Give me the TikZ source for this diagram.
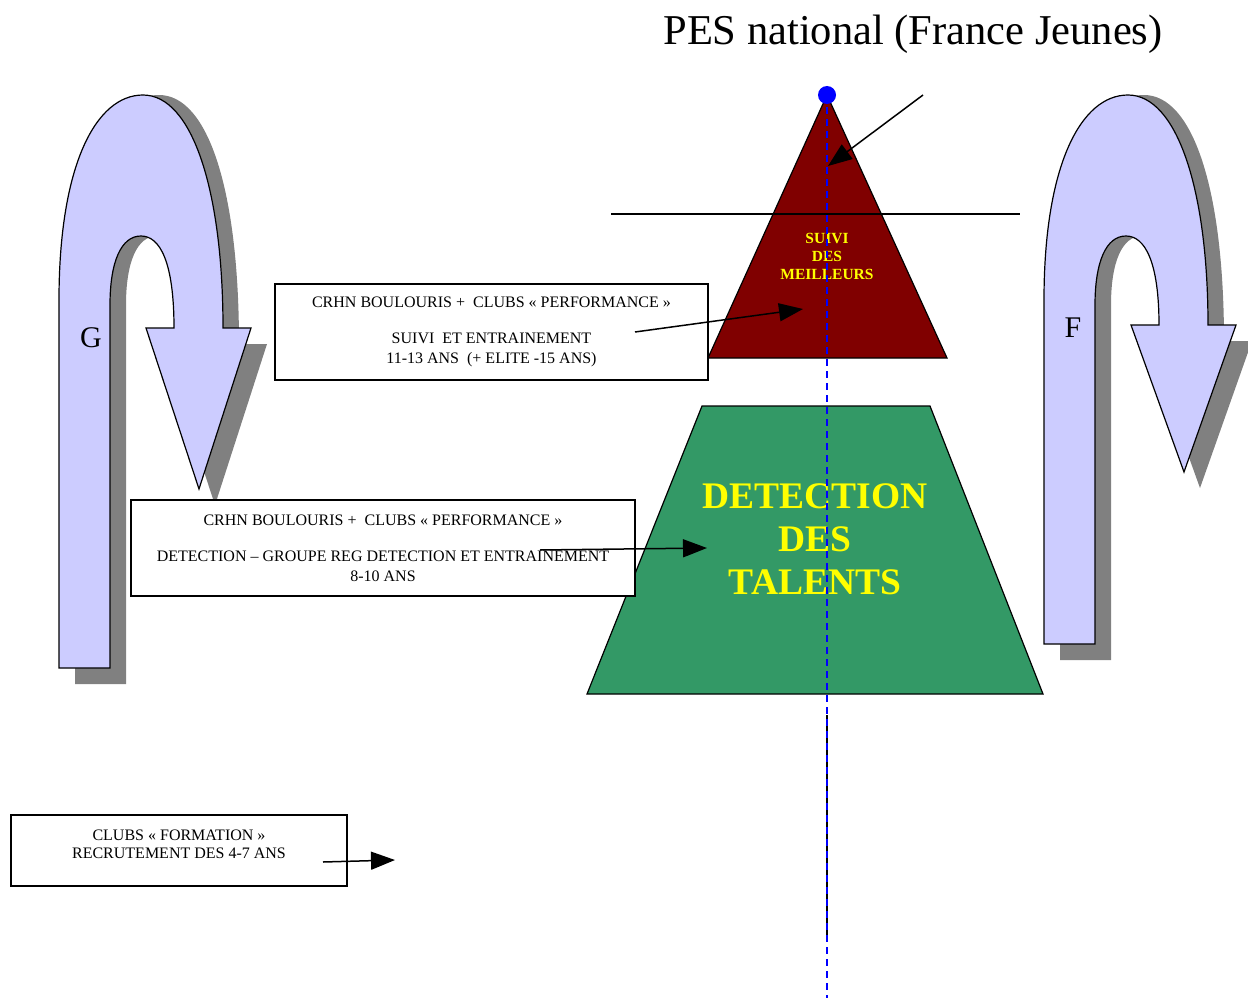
\documentclass[tikz,border=0pt]{standalone}
\usepackage{fontspec}
\setmainfont{Liberation Serif}
\usetikzlibrary{arrows.meta}
\definecolor{lavender}{HTML}{CCCCFF}
\definecolor{shadowgray}{HTML}{808080}
\definecolor{darkred}{HTML}{800000}
\definecolor{talentgreen}{HTML}{339966}
\definecolor{txtyellow}{HTML}{FFFF00}

% U-turn arrow: #1 x shift, #2 head base y, #3 tip y, #4 foot y, #5 style
\newcommand{\uturn}[5]{%
  \path[#5,xshift=#1] (59,#4) -- (59,300)
    .. controls (59,165) and (96,95) .. (143,95)
    .. controls (192,95) and (223,190) .. (223,#2)
    -- (251,#2) -- (199,#3) -- (146,#2) -- (174,#2)
    .. controls (174,262) and (160,236) .. (141,236)
    .. controls (121,236) and (110,262) .. (110,305)
    -- (110,#4) -- cycle;}

\begin{document}
\begin{tikzpicture}[x=1pt,y=-1pt,
  info box/.style={draw,line width=1.5pt,fill=white,align=center,inner sep=0pt,
    font=\fontsize{16}{20}\selectfont},
  pointer/.style={-{Triangle[length=24pt,width=18pt]},line width=1.5pt},
  turn/.style={fill=lavender,draw=black,line width=1.2pt},
  turn shadow/.style={fill=shadowgray}]
\useasboundingbox (0,0) rectangle (1248,998);

% title
\node (title) at (913,34) {\fontsize{42.5}{48}\selectfont PES national (France Jeunes)};

% U-turn arrows with shadows
\uturn{16pt}{344}{505}{684}{turn shadow}
\uturn{0pt}{328}{489}{668}{turn}
\uturn{1001pt}{341}{488}{660}{turn shadow}
\uturn{985pt}{325}{472}{644}{turn}
\node (G) at (91,338) {\fontsize{30}{30}\selectfont G};
\node (F) at (1073,328) {\fontsize{30}{30}\selectfont F};

% pyramid top
\filldraw[fill=darkred,line width=1.2pt] (827,95) -- (947,358) -- (708,358) -- cycle;
\draw[line width=1.5pt] (611,214) -- (1020,214);
\node (suivi) at (827,256) [text=txtyellow,align=center,
  font=\bfseries\fontsize{15.5}{18}\selectfont] {SUIVI\\DES\\MEILLEURS};

% pyramid base
\filldraw[fill=talentgreen,line width=1.2pt] (702,406) -- (930,406) -- (1043,694) -- (587,694) -- cycle;
\node (talents) at (815,539) [text=txtyellow,align=center,
  font=\bfseries\fontsize{37.5}{43}\selectfont] {DETECTION\\DES\\TALENTS};

% boxes
\node[info box,minimum width=433pt,minimum height=96pt] (suivibox) at (491.5,332)
  {CRHN BOULOURIS +\ \ CLUBS « PERFORMANCE »\\[16pt]
   SUIVI\ \ ET ENTRAINEMENT\\ 11-13 ANS\ \ (+ ELITE -15 ANS)};
\node[info box,minimum width=504pt,minimum height=96pt] (detectbox) at (383,548)
  {CRHN BOULOURIS +\ \ CLUBS « PERFORMANCE »\\[16pt]
   DETECTION -- GROUPE REG DETECTION ET ENTRAINEMENT\\ 8-10 ANS};
\node[info box,minimum width=336pt,minimum height=71pt,text depth=12pt,
  font=\fontsize{16}{18}\selectfont] (clubbox) at (179,850.5)
  {CLUBS « FORMATION »\\ RECRUTEMENT DES 4-7 ANS};

% pointers
\coordinate (p1) at (923,95);   \coordinate (q1) at (828,166);
\coordinate (p2) at (635,332);  \coordinate (q2) at (803,309);
\coordinate (p3) at (540,550);  \coordinate (q3) at (707,548);
\coordinate (p4) at (323,862);  \coordinate (q4) at (395,860);
\path[pointer]
  (p1) edge (q1)
  (p2) edge (q2)
  (p3) edge (q3)
  (p4) edge (q4);

% axis
\coordinate (stem top) at (827,715);
\coordinate (stem end) at (827,935);
\draw[line width=1.8pt] (stem top) -- (stem end);
\coordinate (axis end) at (827,998);
\draw[blue,line width=1.5pt,dash pattern=on 7pt off 5pt] (827,95) -- (axis end);
\node (apex) at (827,95) [circle,fill=blue,inner sep=0pt,minimum size=18pt] {};
\end{tikzpicture}
\end{document}
